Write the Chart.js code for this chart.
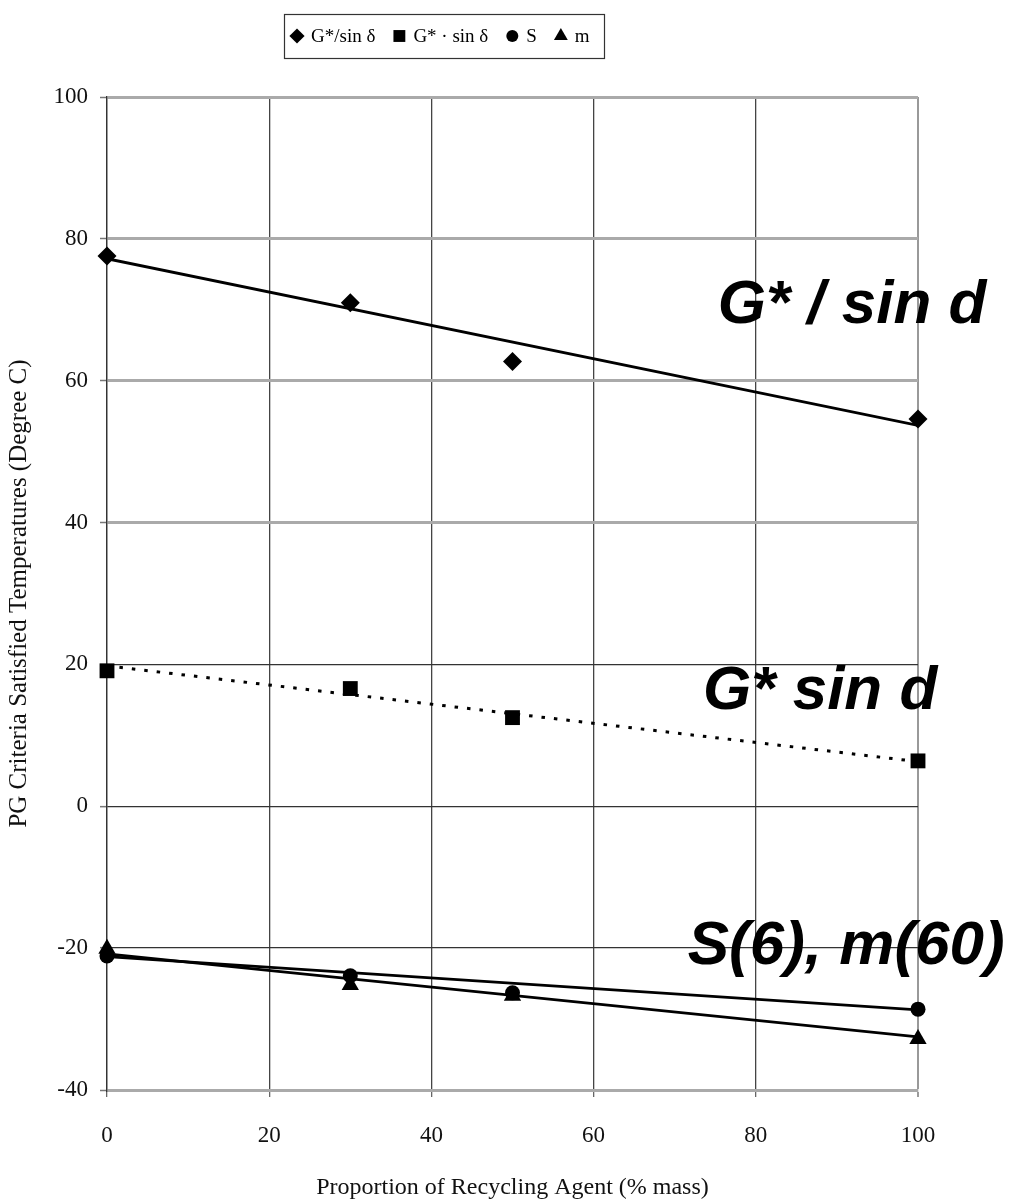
<!DOCTYPE html>
<html><head><meta charset="utf-8">
<script src="https://cdn.jsdelivr.net/npm/chart.js@4.4.1/dist/chart.umd.min.js"></script>
<style>html,body{margin:0;padding:0;background:#fff}#wrap{position:relative;width:1015px;height:1204px}</style>
</head><body><div id="wrap"><canvas id="c" width="1015" height="1204"></canvas></div>
<script>
// ---- data ----
const xValues = [0, 30, 50, 100];
const gOverSin = [77.6, 71.0, 62.7, 54.6];
const gTimesSin = [19.1, 16.6, 12.5, 6.4];
const sValues = [-21.1, -23.9, -26.3, -28.6];
const mValues = [-20.1, -25.2, -26.7, -32.8];
const trendX = [0, 100];
const trendGOverSin = [77.2, 53.7];
const trendGTimesSin = [19.8, 6.3];
const trendS = [-21.2, -28.7];
const trendM = [-20.8, -32.5];
const seriesLabels = ['G*/sin δ', 'G* · sin δ', 'S', 'm'];
const annotationTexts = ['G* / sin d', 'G* sin d', 'S(6), m(60)'];
const annotationX = [75.3, 73.5, 71.6];
const annotationY = [68.2, 13.7, -22.3];
const xTickValues = [0, 20, 40, 60, 80, 100];
const yTickValues = [-40, -20, 0, 20, 40, 60, 80, 100];
const xTitle = 'Proportion of Recycling Agent (% mass)';
const yTitle = 'PG Criteria Satisfied Temperatures (Degree C)';

const pts = (xs, ys) => xs.map((x, i) => ({x, y: ys[i]}));
const lightY = [100, 80, 60, 40, -40];

const lineDs = (ys, dash) => ({
  data: pts(trendX, ys), showLine: true, pointRadius: 0, borderColor: '#000',
  borderWidth: dash ? 3 : 2.8, borderDash: dash || [], borderCapStyle: 'butt', fill: false, order: 2
});
const markDs = (label, ys, style, r) => ({
  label, data: pts(xValues, ys), showLine: false, pointStyle: style, pointRadius: r,
  pointHoverRadius: r, backgroundColor: '#000', borderColor: '#000', pointBorderWidth: 0,
  clip: false, order: 1, isLegend: true
});

const legendPlugin = {
  id: 'boxLegend',
  afterDraw(chart) {
    const ctx = chart.ctx;
    ctx.save();
    ctx.font = '19px "Liberation Serif"';
    ctx.textBaseline = 'middle';
    ctx.fillStyle = '#000';
    const y = 36;
    let x = 290;
    chart.data.datasets.filter(d => d.isLegend).forEach(d => {
      Chart.helpers.drawPoint(ctx, {pointStyle: d.pointStyle, radius: d.pointRadius * 0.8, rotation: 0, borderWidth: 0}, x + 7, y);
      ctx.fillStyle = '#000';
      ctx.fillText(d.label, x + 21, y + 1);
      x += 21 + ctx.measureText(d.label).width + 17;
    });
    ctx.strokeStyle = '#333';
    ctx.lineWidth = 1.2;
    ctx.strokeRect(284.5, 14.5, 320, 44);
    // large annotations
    ctx.font = 'italic bold 62px "Liberation Sans"';
    ctx.textBaseline = 'alphabetic';
    ctx.fillStyle = '#000';
    const xs = chart.scales.x, ys = chart.scales.y;
    annotationTexts.forEach((t, i) => {
      ctx.fillText(t, xs.getPixelForValue(annotationX[i]), ys.getPixelForValue(annotationY[i]));
    });
    ctx.restore();
  }
};

new Chart(document.getElementById('c'), {
  type: 'scatter',
  data: {
    datasets: [
      lineDs(trendGOverSin),
      lineDs(trendGTimesSin, [3.5, 9]),
      lineDs(trendS),
      lineDs(trendM),
      markDs(seriesLabels[0], gOverSin, 'rectRot', 9.5),
      markDs(seriesLabels[1], gTimesSin, 'rect', 10.5),
      markDs(seriesLabels[2], sValues, 'circle', 7.5),
      markDs(seriesLabels[3], mValues, 'triangle', 10)
    ]
  },
  options: {
    responsive: false, animation: false, devicePixelRatio: 1,
    layout: {padding: {top: 97, right: 97, left: 0, bottom: 0}},
    plugins: {legend: {display: false}, tooltip: {enabled: false}},
    scales: {
      x: {
        type: 'linear', min: 0, max: 100,
        afterFit: s => { s.height = 114; },
        afterBuildTicks: s => { s.ticks = xTickValues.map(v => ({value: v})); },
        ticks: {color: '#111', font: {family: 'Liberation Serif', size: 23}, padding: 25, maxRotation: 0},
        grid: {
          color: c => c.tick && c.tick.value === 100 ? '#999' : '#444',
          lineWidth: c => c.tick && c.tick.value === 100 ? 2 : 1.3,
          tickLength: 7, tickColor: '#666', tickWidth: 1.3
        },
        border: {display: true, color: '#aaa', width: 3},
        title: {display: true, text: xTitle, color: '#111', font: {family: 'Liberation Serif', size: 24}, padding: {top: 0, bottom: 2}}
      },
      y: {
        type: 'linear', min: -40, max: 100,
        afterFit: s => { s.width = 107; },
        afterBuildTicks: s => { s.ticks = yTickValues.map(v => ({value: v})); },
        ticks: {color: '#111', font: {family: 'Liberation Serif', size: 23}, padding: 12},
        grid: {
          color: c => c.tick && lightY.includes(c.tick.value) ? '#aaa' : '#333',
          lineWidth: c => c.tick && lightY.includes(c.tick.value) ? 3 : 1.3,
          tickLength: 7, tickColor: '#777', tickWidth: 1.5
        },
        border: {display: true, color: '#333', width: 1.3},
        title: {display: true, text: yTitle, color: '#111', font: {family: 'Liberation Serif', size: 25}, padding: {top: 4, bottom: 0}}
      }
    }
  },
  plugins: [legendPlugin]
});
</script></body></html>
